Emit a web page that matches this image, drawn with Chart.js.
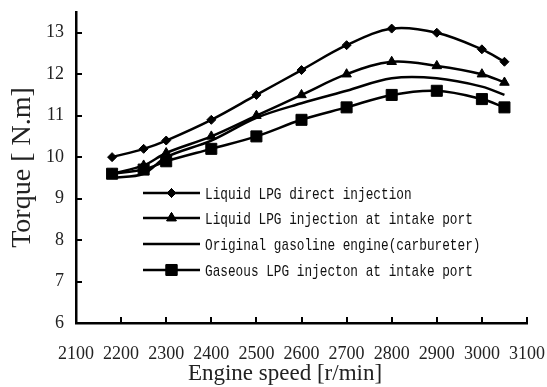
<!DOCTYPE html>
<html>
<head>
<meta charset="utf-8">
<script src="https://cdn.jsdelivr.net/npm/chart.js@4"></script>
<style>
  html, body { margin: 0; padding: 0; background: #fff; }
  #wrap { width: 547px; height: 387px; }
</style>
</head>
<body>
<div id="wrap"><canvas id="torque"></canvas></div>
<script>
// engine speed (r/min) and torque (N.m)
const speeds = [2180, 2250, 2300, 2400, 2500, 2600, 2700, 2800, 2900, 3000, 3050];
const directInjection = [10.0, 10.2, 10.4, 10.9, 11.5, 12.1, 12.7, 13.1, 13.0, 12.6, 12.3];
const liquidIntake = [9.6, 9.8, 10.1, 10.5, 11.0, 11.5, 12.0, 12.3, 12.2, 12.0, 11.8];
const gasolineEngine = [9.5, 9.6, 10.0, 10.4, 10.95, 11.3, 11.6, 11.9, 11.9, 11.7, 11.5];
const gaseousIntake = [9.6, 9.7, 9.9, 10.2, 10.5, 10.9, 11.2, 11.5, 11.6, 11.4, 11.2];

const xTicks = [2100, 2200, 2300, 2400, 2500, 2600, 2700, 2800, 2900, 3000, 3100];
const yTicks = [6, 7, 8, 9, 10, 11, 12, 13];

const seriesLabels = [
    'Liquid LPG direct injection',
    'Liquid LPG injection at intake port',
    'Original gasoline engine(carbureter)',
    'Gaseous LPG injecton at intake port'
];
const xTitle = 'Engine speed [r/min]';

function points(values) {
    return speeds.map((s, i) => ({ x: s, y: values[i] }));
}

function makeSet(label, values, style, radius) {
    return {
        label: label,
        data: points(values),
        borderColor: '#000',
        backgroundColor: '#000',
        borderWidth: 2.5,
        tension: 0.35,
        pointStyle: style,
        pointRadius: radius,
        pointBorderWidth: 1,
        pointBorderColor: '#000',
        pointBackgroundColor: '#000'
    };
}

// inward tick marks on both axes, plus the x axis title (sits left of centre in the original)
const innerTicks = {
    id: 'innerTicks',
    afterDraw(chart) {
        const ctx = chart.ctx;
        const xs = chart.scales.x, ys = chart.scales.y;
        ctx.save();
        ctx.strokeStyle = '#000';
        ctx.lineWidth = 2;
        ctx.beginPath();
        xTicks.forEach(v => {
            const px = Math.round(xs.getPixelForValue(v));
            ctx.moveTo(px, ys.bottom);
            ctx.lineTo(px, ys.bottom - 6);
        });
        yTicks.forEach(v => {
            const py = Math.round(ys.getPixelForValue(v));
            ctx.moveTo(xs.left, py);
            ctx.lineTo(xs.left + 6, py);
        });
        ctx.stroke();

        ctx.fillStyle = '#222';
        ctx.font = '23px "Liberation Serif"';
        ctx.textAlign = 'center';
        ctx.textBaseline = 'middle';
        ctx.fillText(xTitle, 285, 374);
        ctx.restore();
    }
};

// legend drawn inside the plot area
const innerLegend = {
    id: 'innerLegend',
    afterDraw(chart) {
        const ctx = chart.ctx;
        const x0 = 143, x1 = 200, textX = 205;
        const rows = [193, 218, 244, 270];
        ctx.save();
        chart.data.datasets.forEach((ds, i) => {
            const y = rows[i];
            ctx.strokeStyle = '#000';
            ctx.lineWidth = 2.5;
            ctx.beginPath();
            ctx.moveTo(x0, y);
            ctx.lineTo(x1, y);
            ctx.stroke();
            if (ds.pointRadius > 0) {
                ctx.fillStyle = '#000';
                ctx.lineWidth = 1;
                Chart.helpers.drawPoint(ctx, { pointStyle: ds.pointStyle, radius: ds.pointRadius, borderWidth: 1 }, (x0 + x1) / 2, y);
                ctx.fill();
                ctx.stroke();
            }
            ctx.save();
            ctx.translate(textX, y);
            ctx.scale(0.75, 1);
            ctx.fillStyle = '#111';
            ctx.font = '17px "Liberation Mono"';
            ctx.textBaseline = 'middle';
            ctx.fillText(ds.label, 0, 1);
            ctx.restore();
        });
        ctx.restore();
    }
};

new Chart(document.getElementById('torque'), {
    type: 'line',
    data: {
        datasets: [
            makeSet(seriesLabels[0], directInjection, 'rectRot', 4.5),
            makeSet(seriesLabels[1], liquidIntake, 'triangle', 5.5),
            makeSet(seriesLabels[2], gasolineEngine, 'circle', 0),
            makeSet(seriesLabels[3], gaseousIntake, 'rect', 7.8)
        ]
    },
    options: {
        responsive: true,
        maintainAspectRatio: false,
        animation: false,
        layout: { padding: { top: 12, right: 20, left: 0, bottom: 0 } },
        plugins: {
            legend: { display: false },
            tooltip: { enabled: false }
        },
        scales: {
            x: {
                type: 'linear',
                min: 2100,
                max: 3100,
                afterBuildTicks: s => { s.ticks = xTicks.map(v => ({ value: v })); },
                afterFit: s => { s.height = 64; s.paddingLeft = 0; s.paddingRight = 0; },
                grid: { display: false, drawTicks: false },
                border: { display: true, color: '#000', width: 2.5 },
                ticks: {
                    color: '#222',
                    padding: 20,
                    maxRotation: 0,
                    autoSkip: false,
                    callback: v => String(v),
                    font: { family: '"Liberation Serif"', size: 18 }
                },
                title: { display: false }
            },
            y: {
                min: 6,
                max: 13.5,
                afterBuildTicks: s => { s.ticks = yTicks.map(v => ({ value: v })); },
                afterFit: s => { s.width = 76; s.paddingTop = 0; s.paddingBottom = 0; },
                grid: { display: false, drawTicks: false },
                border: { display: true, color: '#000', width: 2.5 },
                ticks: {
                    color: '#222',
                    padding: 12,
                    font: { family: '"Liberation Serif"', size: 18 }
                },
                title: {
                    display: true,
                    text: 'Torque [ N.m]',
                    color: '#222',
                    padding: { top: 6, bottom: 0 },
                    font: { family: '"Liberation Serif"', size: 28 }
                }
            }
        }
    },
    plugins: [innerTicks, innerLegend]
});
</script>
</body>
</html>
